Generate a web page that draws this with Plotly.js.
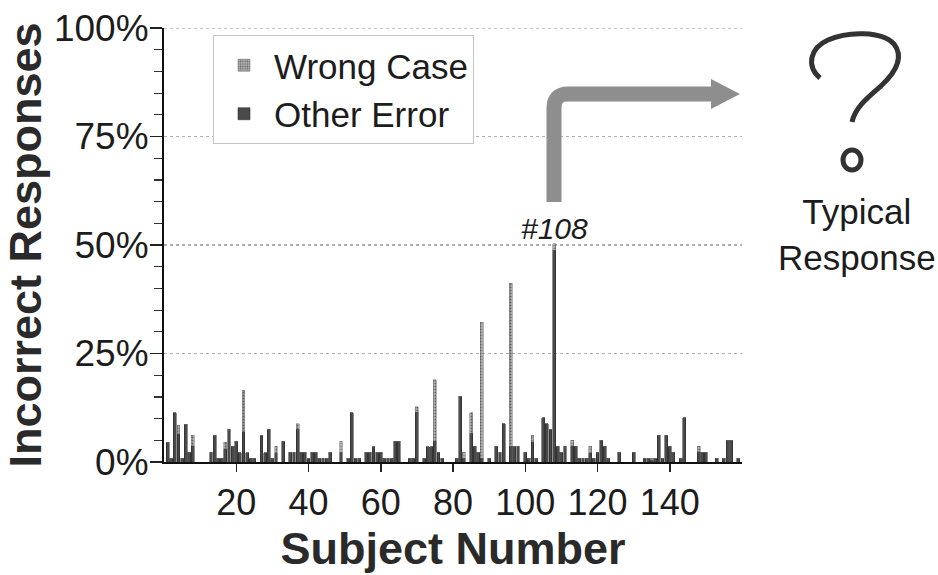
<!DOCTYPE html>
<html>
<head>
<meta charset="utf-8">
<script src="https://cdn.plot.ly/plotly-3.0.1.min.js"></script>
<style>
  html, body { margin: 0; padding: 0; background: #ffffff; }
  #chart { width: 938px; height: 575px; }
</style>
</head>
<body>
<div id="chart"></div>
<script>
// ---- data (percent of responses per subject) ----
const subjects = [
  1,2,3,4,5,6,7,8,9,10,
  11,12,13,14,15,16,17,18,19,20,
  21,22,23,24,25,26,27,28,29,30,
  31,32,33,34,35,36,37,38,39,40,
  41,42,43,44,45,46,47,48,49,50,
  51,52,53,54,55,56,57,58,59,60,
  61,62,63,64,65,66,67,68,69,70,
  71,72,73,74,75,76,77,78,79,80,
  81,82,83,84,85,86,87,88,89,90,
  91,92,93,94,95,96,97,98,99,100,
  101,102,103,104,105,106,107,108,109,110,
  111,112,113,114,115,116,117,118,119,120,
  121,122,123,124,125,126,127,128,129,130,
  131,132,133,134,135,136,137,138,139,140,
  141,142,143,144,145,146,147,148,149,150,
  151,152,153,154,155,156,157,158,159
];

const otherError = [
  4.6,0.9,11.3,6.5,0.9,8.7,2.3,3.7,0,0,
  0,0,2.3,6.2,0.9,0.9,3.1,7.5,3.6,4.8,
  2.1,7.0,2.1,0.9,0.9,0,6.2,2.1,7.5,0.9,
  2.1,0,4.8,0,2.3,2.3,7.6,2.3,2.3,0.9,
  2.3,2.3,0.9,0.9,0.9,2.3,0,0,2.3,0,
  0.9,11.3,0.9,0.9,0,2.3,2.3,3.5,2.3,2.3,
  0.9,0.9,0.9,4.8,4.8,0,0,0.9,0.9,11.5,
  0,0.9,3.5,3.5,4.8,2.3,0.9,0,0,0,
  0.9,15.2,0.9,0,6.6,3.6,2.3,0.9,0,0.9,
  0,3.6,2.3,8.8,0,3.6,3.6,3.6,0,2.3,
  0.9,4.7,0.9,0,10.2,8.8,7.5,48.8,3.6,2.3,
  3.6,0,3.7,3.6,0.9,0.9,0.9,2.1,0.9,2.3,
  5.0,3.6,0.9,0,0,2.3,0,0,0,2.3,
  0,0,0.9,0.9,0.4,0.9,6.2,0.9,6.2,3.6,
  2.3,0,0.9,10.2,0,0,0,2.4,2.3,2.3,
  0,0,0.9,0,0.9,5.0,5.0,0,0.9
];

const wrongCase = [
  0,0,0,2.0,0,0,0,2.5,0,0,
  0,0,0,0,0,0,1.5,0,0,0,
  0,9.5,0,0,0,0,0,0,0,0,
  1.5,0,0,0,0,0,1.2,0,0,0,
  0,0,0,0,0,0,0,0,2.5,0,
  0,0,0,0,0,0,0,0,0,0,
  0,0,0,0,0,0,0,0,0,1.2,
  0,0,0,0,14.2,0,0,0,0,0,
  0,0,1.4,0,4.7,0,0,31.3,0,0,
  0,0,0,0,0,37.6,0,0,0,0,
  0,1.5,0,0,0,0,0,1.5,0,0,
  0,0,1.3,0,0,0,0,1.5,0,0,
  0,0,0,0,0,0,0,0,0,0,
  0,0,0,0,0.5,0,0,0,0,0,
  0,0,0,0,0,0,0,1.2,0,0,
  0,0,0,0,0,0,0,0,0
];

const xTickVals = [20, 40, 60, 80, 100, 120, 140];
const yTickVals = [0, 25, 50, 75, 100];
const yTickText = ['0%', '25%', '50%', '75%', '100%'];

// ---- layout helpers (pixel -> paper, for the decorations only) ----
const M = { l: 164, r: 196, t: 28, b: 113 };
const PW = 938 - M.l - M.r, PH = 575 - M.t - M.b;
const px = x => (x - M.l) / PW;
const py = y => (M.t + PH - y) / PH;
function path(cmds) {
  return cmds.map(c => {
    const op = c[0];
    const nums = c.slice(1);
    const out = [];
    for (let i = 0; i < nums.length; i += 2) {
      out.push(px(nums[i]).toFixed(5) + ',' + py(nums[i + 1]).toFixed(5));
    }
    return op + ' ' + out.join(' ');
  }).join(' ');
}

const FONT = 'Liberation Sans, Arial, Helvetica, sans-serif';
const INK = '#1c1c1c';

const traces = [
  {
    type: 'bar', name: 'Other Error',
    x: subjects, y: otherError,
    marker: { color: '#4a4a4a', line: { color: '#1e1e1e', width: 0.5 } },
    hoverinfo: 'x+y'
  },
  {
    type: 'bar', name: 'Wrong Case',
    x: subjects, y: wrongCase,
    marker: {
      color: '#a2a2a2',
      line: { color: '#6a6a6a', width: 0.5 },
      pattern: { shape: '.', fgcolor: '#5e5e5e', bgcolor: '#b4b4b4', size: 3, solidity: 0.35 }
    },
    hoverinfo: 'x+y'
  }
];

const shapes = [
  // dotted grid line at 100%
  {
    type: 'line', xref: 'paper', yref: 'y', x0: 0, x1: 1, y0: 100, y1: 100, layer: 'below',
    line: { color: '#b0b0b0', width: 1.5, dash: 'dot' }
  },
  // bent arrow from #108 to the typical response
  {
    type: 'path', xref: 'paper', yref: 'paper', layer: 'above',
    path: path([['M', 554, 202], ['L', 554, 108], ['Q', 554, 94, 568, 94], ['L', 716, 94]]),
    line: { color: '#8e8e8e', width: 15 }
  },
  {
    type: 'path', xref: 'paper', yref: 'paper', layer: 'above',
    path: path([['M', 711, 79], ['L', 740, 94], ['L', 711, 109]]) + ' Z',
    fillcolor: '#8e8e8e', line: { width: 0 }
  },
  // hand-drawn question mark
  {
    type: 'path', xref: 'paper', yref: 'paper', layer: 'above',
    path: path([['M', 820, 78], ['C', 806, 66, 810, 48, 828, 40], ['C', 848, 31, 882, 31, 894, 44],
                ['C', 904, 57, 896, 72, 881, 86], ['C', 866, 99, 855, 108, 852, 122]]),
    line: { color: '#333333', width: 5 }
  },
  {
    type: 'circle', xref: 'paper', yref: 'paper', layer: 'above',
    x0: px(843), x1: px(861), y0: py(170), y1: py(150),
    line: { color: '#333333', width: 5 }
  }
];

const annotations = [
  {
    x: 108, y: 53.9, xref: 'x', yref: 'y', text: '#108', showarrow: false,
    xanchor: 'center', yanchor: 'middle',
    font: { family: FONT, size: 30, color: INK, style: 'italic' }
  },
  {
    x: px(857), y: py(234), xref: 'paper', yref: 'paper',
    xanchor: 'center', yanchor: 'middle',
    text: 'Typical<br>Response', showarrow: false,
    font: { family: FONT, size: 35, color: INK }
  }
];

const layout = {
  width: 938, height: 575,
  margin: M,
  paper_bgcolor: '#ffffff', plot_bgcolor: '#ffffff',
  font: { family: FONT, color: INK },
  barmode: 'stack', bargap: 0.2,
  showlegend: true,
  legend: {
    x: px(213), y: py(35), xanchor: 'left', yanchor: 'top',
    bgcolor: '#ffffff', bordercolor: '#c4c4c4', borderwidth: 1,
    font: { family: FONT, size: 35, color: INK },
    traceorder: 'reversed', itemwidth: 50, tracegroupgap: 0
  },
  xaxis: {
    range: [0, 160], tickmode: 'array', tickvals: xTickVals,
    ticks: 'outside', ticklen: 8, tickwidth: 1.5, tickcolor: '#222',
    showline: true, linecolor: '#111', linewidth: 2,
    showgrid: false, zeroline: false,
    tickfont: { family: FONT, size: 36, color: INK },
    title: { text: 'Subject Number', standoff: 4,
             font: { family: FONT, size: 45, color: '#2a2a2a', weight: 'bold' } }
  },
  yaxis: {
    range: [0, 100], tickmode: 'array', tickvals: yTickVals, ticktext: yTickText,
    ticks: 'outside', ticklen: 12, tickwidth: 1.5, tickcolor: '#222',
    ticklabelstandoff: -6,
    minor: { dtick: 5, ticks: 'outside', ticklen: 8, tickwidth: 1.2, tickcolor: '#333', showgrid: false },
    showline: true, linecolor: '#111', linewidth: 2,
    showgrid: true, gridcolor: '#b0b0b0', griddash: 'dot', gridwidth: 1.5,
    zeroline: false,
    tickfont: { family: FONT, size: 37, color: INK },
    title: { text: 'Incorrect Responses', standoff: 4,
             font: { family: FONT, size: 45, color: '#2a2a2a', weight: 'bold' } }
  },
  shapes: shapes,
  annotations: annotations
};

Plotly.newPlot('chart', traces, layout, { displayModeBar: false, staticPlot: true });
</script>
</body>
</html>
